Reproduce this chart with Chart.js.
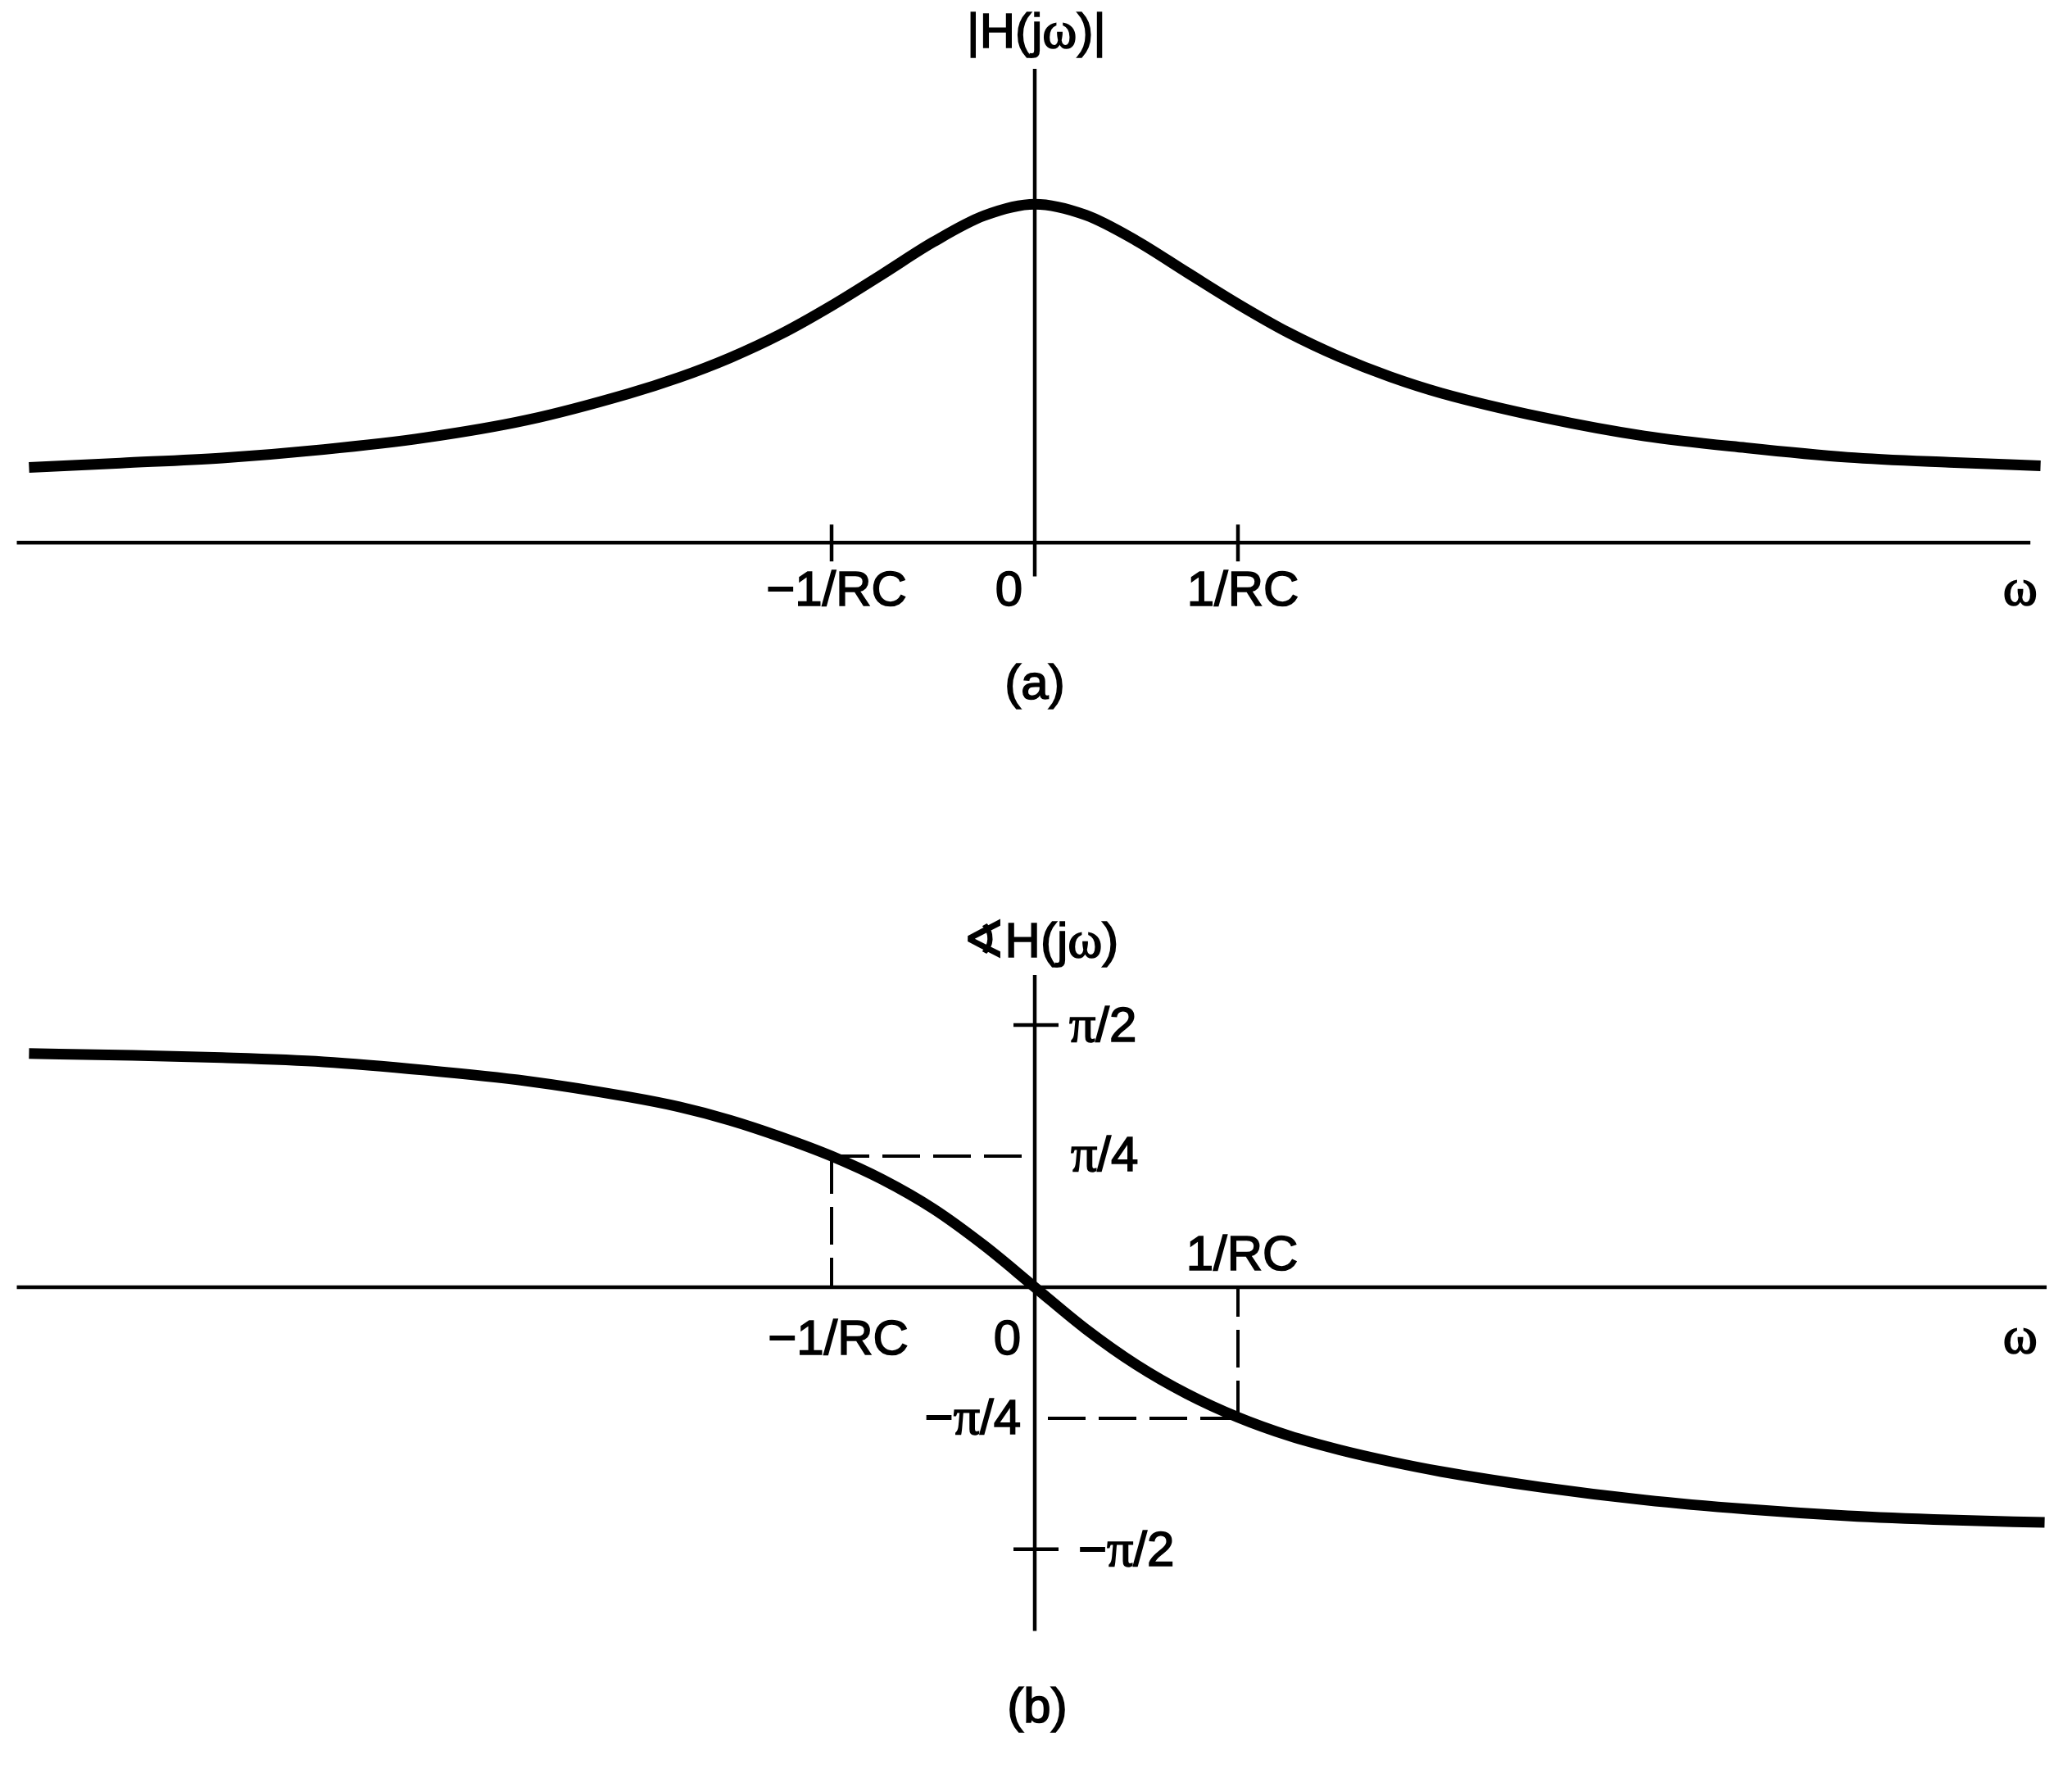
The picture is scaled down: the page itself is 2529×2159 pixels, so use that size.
<!DOCTYPE html>
<html>
<head>
<meta charset="utf-8">
<script src="https://cdn.jsdelivr.net/npm/chart.js@4.4.1/dist/chart.umd.min.js"></script>
<style>
  html, body { margin: 0; padding: 0; background: #fff; }
  #wrap { position: relative; width: 2529px; height: 2159px; }
  canvas { position: absolute; left: 0; }
</style>
</head>
<body>
<div id="wrap">
  <canvas id="chart-a" width="2529" height="1000" style="top:0"></canvas>
  <canvas id="chart-b" width="2529" height="1159" style="top:1000px"></canvas>
</div>
<script>
// frequency in units of 1/RC
const omegaA = [-4.95, -4.5, -4, -3.5, -3, -2.5, -2, -1.75, -1.5, -1.25, -1, -0.75, -0.5, -0.25, 0, 0.25, 0.5, 0.75, 1, 1.25, 1.5, 1.75, 2, 2.5, 3, 3.5, 4, 4.5, 4.95];
const magnitude = [0.222, 0.235, 0.25, 0.275, 0.31, 0.362, 0.44, 0.488, 0.546, 0.616, 0.70, 0.793, 0.888, 0.966, 1.0, 0.968, 0.892, 0.798, 0.705, 0.62, 0.549, 0.49, 0.442, 0.37, 0.315, 0.28, 0.252, 0.237, 0.227];

const omegaB = [-4.95, -4.5, -4, -3.5, -3, -2.5, -2, -1.75, -1.5, -1.25, -1, -0.75, -0.5, -0.25, 0, 0.25, 0.5, 0.75, 1, 1.25, 1.5, 1.75, 2, 2.5, 3, 3.5, 4, 4.5, 4.97];
const phase = [1.40, 1.39, 1.375, 1.35, 1.30, 1.235, 1.14, 1.08, 1.0, 0.90, 0.785, 0.645, 0.47, 0.25, 0, -0.25, -0.465, -0.64, -0.78, -0.89, -0.975, -1.045, -1.105, -1.2, -1.275, -1.33, -1.37, -1.395, -1.41];

const freqTicks = [-1, 0, 1];
const freqTickLabels = ['−1/RC', '0', '1/RC'];
const phaseTicks = [Math.PI / 2, Math.PI / 4, -Math.PI / 4, -Math.PI / 2];
const phaseTickLabels = ['π/2', 'π/4', '−π/4', '−π/2'];
const guideOmega = [-1, 1];
const guidePhase = [Math.PI / 4, -Math.PI / 4];

const SANS = '"Liberation Sans", Arial, sans-serif';
const SERIF = '"Liberation Serif", "Times New Roman", serif';
const SYM = '"DejaVu Sans", sans-serif';

function runsOf(str) {
  const runs = [];
  for (const ch of str) {
    const f = /[πω]/.test(ch) ? SERIF : (ch === '∢' ? SYM : SANS);
    if (runs.length && runs[runs.length - 1][1] === f) runs[runs.length - 1][0] += ch;
    else runs.push([ch, f]);
  }
  return runs;
}

function fontFor(f) {
  if (f === SYM) return '62px ' + f;
  if (f === SERIF) return '64px ' + f;
  return '60px ' + f;
}

function drawText(ctx, str, x, y, align) {
  const runs = runsOf(str);
  ctx.save();
  ctx.fillStyle = '#000';
  ctx.strokeStyle = '#000';
  ctx.lineWidth = 1.6;
  ctx.textBaseline = 'alphabetic';
  ctx.textAlign = 'left';
  let total = 0;
  const widths = runs.map(([t, f]) => {
    ctx.font = fontFor(f);
    const w = ctx.measureText(t).width;
    total += w;
    return w;
  });
  let cx = align === 'center' ? x - total / 2 : (align === 'right' ? x - total : x);
  runs.forEach(([t, f], i) => {
    ctx.font = fontFor(f);
    ctx.fillText(t, cx, y);
    ctx.strokeText(t, cx, y);
    cx += widths[i];
  });
  ctx.restore();
}

function line(ctx, x1, y1, x2, y2) {
  ctx.beginPath();
  ctx.moveTo(x1, y1);
  ctx.lineTo(x2, y2);
  ctx.stroke();
}

const axesA = {
  id: 'axesA',
  afterDraw(chart) {
    const { ctx, chartArea } = chart;
    const xs = chart.scales.x, ys = chart.scales.y;
    const y0 = ys.getPixelForValue(0), x0 = xs.getPixelForValue(0);
    ctx.save();
    ctx.strokeStyle = '#000';
    ctx.lineWidth = 4.5;
    line(ctx, xs.getPixelForValue(-5.01), y0, xs.getPixelForValue(4.9), y0);
    line(ctx, x0, chartArea.top, x0, chartArea.bottom);
    freqTicks.forEach((v, i) => {
      const px = xs.getPixelForValue(v);
      if (v !== 0) {
        line(ctx, px, y0 - 22, px, y0 + 23);
        drawText(ctx, freqTickLabels[i], px + 6, y0 + 77, 'center');
      } else {
        drawText(ctx, freqTickLabels[i], px - 15, y0 + 77, 'right');
      }
    });
    drawText(ctx, 'ω', xs.getPixelForValue(4.85), y0 + 76, 'center');
    drawText(ctx, '|H(jω)|', x0 + 2, 58, 'center');
    drawText(ctx, '(a)', x0, 853, 'center');
    ctx.restore();
  }
};

const axesB = {
  id: 'axesB',
  afterDraw(chart) {
    const { ctx, chartArea } = chart;
    const xs = chart.scales.x, ys = chart.scales.y;
    const y0 = ys.getPixelForValue(0), x0 = xs.getPixelForValue(0);
    ctx.save();
    ctx.strokeStyle = '#000';
    ctx.lineWidth = 4.5;
    line(ctx, xs.getPixelForValue(-5.01), y0, xs.getPixelForValue(4.98), y0);
    line(ctx, x0, chartArea.top, x0, chartArea.bottom);
    phaseTicks.forEach((v, i) => {
      const py = ys.getPixelForValue(v);
      const lab = phaseTickLabels[i];
      if (Math.abs(v) > 1.5) {
        line(ctx, x0 - 26, py, x0 + 29, py);
        drawText(ctx, lab, x0 + (v > 0 ? 42 : 53), py + 20, 'left');
      } else if (v > 0) {
        drawText(ctx, lab, x0 + 44, py + 18, 'left');
      } else {
        drawText(ctx, lab, x0 - 17, py + 19, 'right');
      }
    });
    // dashed guides at +-1/RC
    ctx.lineWidth = 4;
    ctx.setLineDash([46, 16]);
    guideOmega.forEach((w, i) => {
      const px = xs.getPixelForValue(w), py = ys.getPixelForValue(guidePhase[i]);
      line(ctx, px, py, x0, py);
      line(ctx, px, py, px, y0);
    });
    ctx.setLineDash([]);
    freqTicks.forEach((v, i) => {
      const px = xs.getPixelForValue(v);
      if (v > 0) drawText(ctx, freqTickLabels[i], px + 5, y0 - 21, 'center');
      else if (v < 0) drawText(ctx, freqTickLabels[i], px + 8, y0 + 82, 'center');
      else drawText(ctx, freqTickLabels[i], px - 17, y0 + 82, 'right');
    });
    drawText(ctx, 'ω', xs.getPixelForValue(4.85), y0 + 80, 'center');
    drawText(ctx, '∢H(jω)', x0 + 7, 168, 'center');
    drawText(ctx, '(b)', x0 + 3, 1102, 'center');
    ctx.restore();
  }
};

function curveChart(id, xs, ys, yMin, yMax, padding, plugin) {
  return new Chart(document.getElementById(id).getContext('2d'), {
    type: 'line',
    data: {
      datasets: [{
        data: xs.map((x, i) => ({ x: x, y: ys[i] })),
        borderColor: '#000',
        borderWidth: 13,
        borderCapStyle: 'butt',
        borderJoinStyle: 'round',
        pointRadius: 0,
        cubicInterpolationMode: 'monotone',
        fill: false,
        clip: false
      }]
    },
    options: {
      responsive: false,
      animation: false,
      events: [],
      layout: { padding: padding },
      scales: {
        x: { type: 'linear', min: -5, max: 5, display: false },
        y: { type: 'linear', min: yMin, max: yMax, display: false }
      },
      plugins: { legend: { display: false }, tooltip: { enabled: false } }
    },
    plugins: [plugin]
  });
}

curveChart('chart-a', omegaA, magnitude, -0.1, 1.4, { left: 23, right: 26, top: 84, bottom: 296.5 }, axesA);
curveChart('chart-b', omegaB, phase, -2.06, 1.87, { left: 23, right: 26, top: 190, bottom: 168.5 }, axesB);
</script>
</body>
</html>
